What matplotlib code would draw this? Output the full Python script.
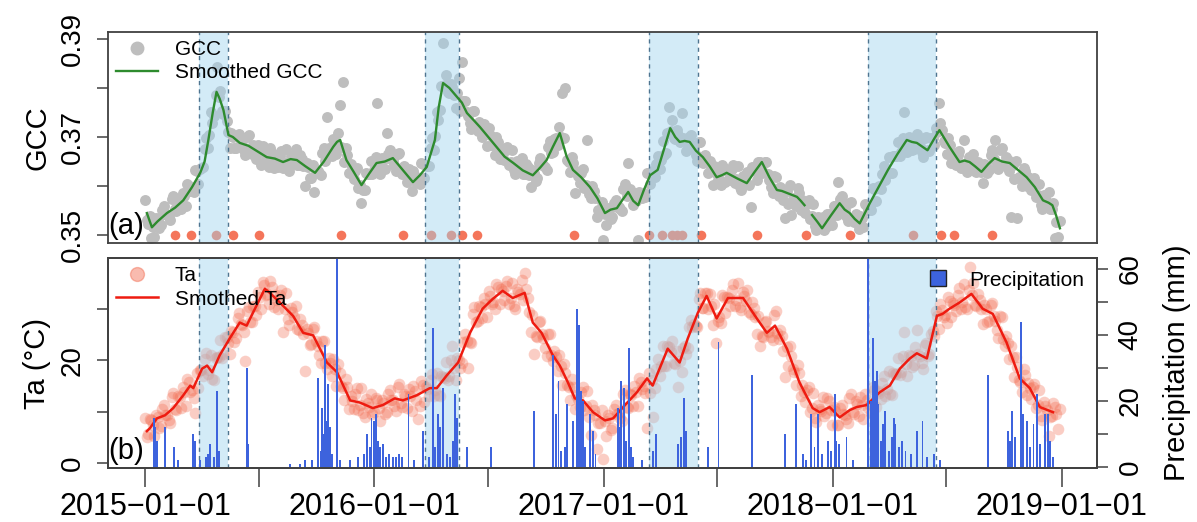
import numpy as np
import pandas as pd
import matplotlib
matplotlib.use('Agg')
import matplotlib.pyplot as plt
from matplotlib.lines import Line2D

plt.rcParams['font.family'] = ['Liberation Sans', 'DejaVu Sans']

start = pd.Timestamp('2015-01-01')

# observations: one list on days 0, 5, 10, ... and one on days 2.5, 7.5, ...
obs_step = 5
gcc_obs = [
    # 2015
    .3572, .3522, .3495, .3497, .3533, .3521, .3560, .3542, .3530, .3580,
    .3550, .3571, .3586, .3559, .3600, .3597, .3633, .3605, .3637, .3675,
    .3677, .3751, .3742, .3842, .3794, .3747, .3733, .3677, .3701, .3678,
    .3707, .3683, .3663, .3704, .3666, .3677, .3684, .3643, .3670, .3654,
    .3677, .3636, .3652, .3662, .3637, .3675, .3631, .3657, .3675, .3642,
    .3656, .3600, .3639, .3617, .3588, .3631, .3623, .3677, .3740, .3676,
    .3695, .3666, .3765, .3812, .3677, .3627, .3632, .3631, .3596, .3566,
    .3591, .3625, .3651,
    # 2016
    .3632, .3770, .3624, .3654, .3708, .3673, .3654, .3630, .3667, .3624,
    .3632, .3634, .3589, .3620, .3615, .3648, .3617, .3641, .3677, .3674,
    .3750, .3755, .3892, .3826, .3789, .3801, .3760, .3820, .3853, .3773,
    .3742, .3717, .3754, .3712, .3723, .3726, .3681, .3704, .3683, .3700,
    .3656, .3668, .3673, .3643, .3674, .3624, .3645, .3658, .3624, .3638,
    .3599, .3627, .3617, .3657, .3643, .3633, .3691, .3669, .3697, .3720,
    .3790, .3800, .3650, .3660, .3586, .3621, .3627, .3597, .3694, .3576,
    .3589, .3537, .3548,
    # 2017
    .3490, .3521, .3552, .3536, .3572, .3557, .3550, .3604, .3647, .3585,
    .3586, .3490, .3583, .3585, .3626, .3604, .3627, .3644, .3634, .3692,
    .3668, .3761, .3735, .3695, .3704, .3749, .3693, .3675, .3705, .3677,
    .3652, .3690, .3648, .3652, .3651, .3603, .3627, .3615, .3643, .3608,
    .3626, .3634, .3607, .3640, .3592, .3613, .3629, .3557, .3638, .3613,
    .3649, .3629, .3650, .3613, .3585, .3619, .3580, .3593, .3535, .3563,
    .3541, .3575, .3597, .3552, .3562, .3564, .3533, .3563, .3510, .3526,
    .3537, .3516, .3544,
    # 2018
    .3521, .3559, .3608, .3579, .3552, .3529, .3567, .3526, .3534, .3540,
    .3516, .3560, .3560, .3597, .3570, .3600, .3624, .3612, .3660, .3627,
    .3662, .3689, .3669, .3751, .3669, .3695, .3675, .3706, .3681, .3659,
    .3700, .3671, .3697, .3718, .3770, .3714, .3687, .3698, .3647, .3657,
    .3663, .3637, .3694, .3629, .3654, .3665, .3629, .3641, .3606, .3643,
    .3633, .3673, .3694, .3634, .3677, .3640, .3653, .3537, .3614, .3535,
    .3617, .3637, .3600, .3609, .3612, .3577, .3605, .3553, .3573, .3587,
    .3554, .3494, .3497,
]
gcc_obs_mid = [
    # 2015
    .3530, .3539, .3517, .3534, .3515, .3551, .3544, .3536, .3573, .3553,
    .3573, .3554, .3579, .3605, .3589, .3588, .3630, .3635, .3638, .3698,
    .3705, .3729, .3786, .3781, .3754, .3754, .3710, .3708, .3678, .3703,
    .3688, .3673, .3701, .3673, .3684, .3656, .3670, .3682, .3653, .3638,
    .3668, .3658, .3639, .3672, .3647, .3636, .3662, .3653, .3642, .3663,
    .3641, .3647, .3616, .3642, .3631, .3627, .3668, .3652, .3677, .3661,
    .3687, .3709, .3680, .3650, .3663, .3644, .3614, .3636, .3602, .3592,
    .3626, .3625, .3625,
    # 2016
    .3659, .3645, .3658, .3634, .3666, .3656, .3642, .3666, .3633, .3641,
    .3608, .3618, .3630, .3608, .3604, .3644, .3643, .3641, .3698, .3703,
    .3735, .3803, .3807, .3791, .3809, .3785, .3789, .3753, .3773, .3750,
    .3729, .3753, .3721, .3730, .3700, .3710, .3718, .3684, .3664, .3689,
    .3676, .3653, .3680, .3649, .3632, .3652, .3638, .3624, .3645, .3623,
    .3632, .3610, .3648, .3643, .3638, .3680, .3668, .3696, .3684, .3701,
    .3698, .3654, .3628, .3647, .3630, .3606, .3634, .3603, .3584, .3600,
    .3576, .3552, .3567,
    # 2017
    .3544, .3556, .3532, .3565, .3557, .3553, .3595, .3579, .3594, .3561,
    .3570, .3587, .3575, .3578, .3626, .3630, .3618, .3661, .3654, .3663,
    .3709, .3712, .3698, .3714, .3689, .3698, .3672, .3701, .3684, .3664,
    .3689, .3657, .3663, .3627, .3634, .3640, .3612, .3602, .3637, .3631,
    .3612, .3643, .3614, .3599, .3620, .3608, .3602, .3638, .3630, .3650,
    .3627, .3650, .3624, .3599, .3620, .3587, .3599, .3572, .3589, .3602,
    .3573, .3559, .3586, .3571, .3545, .3571, .3539, .3519, .3536, .3518,
    .3510, .3544, .3537,
    # 2018
    .3559, .3542, .3574, .3558, .3540, .3566, .3534, .3543, .3512, .3535,
    .3563, .3551, .3551, .3595, .3599, .3594, .3640, .3627, .3626, .3662,
    .3662, .3662, .3697, .3688, .3701, .3673, .3701, .3686, .3670, .3697,
    .3673, .3697, .3683, .3711, .3728, .3691, .3665, .3684, .3666, .3642,
    .3672, .3646, .3634, .3659, .3646, .3630, .3649, .3628, .3644, .3626,
    .3664, .3656, .3643, .3673, .3646, .3659, .3631, .3643, .3651, .3618,
    .3600, .3630, .3619, .3593, .3617, .3582, .3562, .3581, .3567, .3554,
    .3565, .3527, .3528,
]
ta_obs = [
    # 2015
    8.7, 5.6, 8.4, 5.2, 9.0, 7.2, 11.3, 9.3, 7.8, 13.7,
    10.3, 12.9, 14.8, 11.2, 15.7, 14.2, 9.8, 14.7, 18.2, 20.2,
    17.3, 21.0, 16.1, 20.6, 23.9, 21.3, 24.5, 21.3, 25.6, 24.4,
    29.3, 26.9, 19.8, 30.5, 27.6, 30.6, 33.3, 30.1, 34.7, 33.0,
    35.5, 30.4, 31.9, 32.8, 25.6, 33.1, 27.0, 29.4, 30.6, 25.9,
    27.0, 17.9, 25.4, 23.2, 26.5, 22.9, 19.6, 23.8, 18.4, 19.6,
    20.2, 15.1, 17.5, 14.7, 16.4, 10.6, 12.1, 13.5, 10.3, 14.6,
    8.9, 11.6, 13.5,
    # 2016
    9.9, 12.2, 8.2, 11.7, 10.0, 14.2, 12.2, 10.2, 15.4, 11.0,
    13.0, 14.4, 10.2, 14.0, 8.5, 16.0, 11.9, 14.4, 16.1, 13.1,
    17.6, 13.0, 16.8, 19.7, 16.9, 22.9, 16.2, 20.1, 19.5, 25.1,
    18.6, 23.5, 30.5, 27.7, 30.4, 32.2, 28.4, 32.6, 31.5, 35.0,
    31.0, 33.6, 34.6, 31.1, 35.2, 30.1, 33.4, 35.7, 37.0, 32.2,
    25.6, 21.2, 24.6, 27.8, 24.3, 20.8, 25.2, 19.8, 20.7, 21.0,
    15.2, 17.6, 14.8, 16.4, 10.5, 12.5, 13.8, 10.4, 14.1, 5.5,
    10.4, 2.8, 7.8,
    # 2017
    0.8, 5.3, 8.8, 6.9, 11.3, 9.7, 8.2, 14.3, 10.7, 13.2,
    15.1, 11.2, 15.8, 15.1, 6.9, 13.6, 9.0, 18.3, 16.9, 22.9,
    19.0, 22.6, 23.8, 19.4, 14.8, 17.7, 22.8, 22.5, 27.9, 27.1,
    26.6, 33.2, 30.2, 33.2, 32.9, 27.0, 23.5, 28.5, 32.7, 29.3,
    32.2, 33.7, 30.7, 35.2, 29.8, 32.6, 33.8, 29.1, 30.3, 25.2,
    22.9, 24.6, 27.7, 25.5, 24.0, 29.6, 24.2, 24.8, 16.8, 18.9,
    20.9, 17.8, 19.1, 13.1, 13.9, 14.2, 10.0, 13.6, 7.9, 10.5,
    12.9, 9.7, 12.1,
    # 2018
    7.4, 10.1, 7.4, 11.3, 9.4, 7.8, 13.4, 9.5, 11.5, 12.8,
    8.5, 12.2, 11.3, 14.9, 11.0, 13.7, 15.6, 13.0, 17.9, 13.3,
    17.4, 20.5, 17.8, 25.6, 16.9, 20.8, 19.2, 26.0, 20.8, 18.4,
    23.5, 21.3, 25.8, 29.7, 26.1, 29.9, 28.9, 32.3, 28.4, 30.9,
    32.7, 30.0, 34.9, 30.0, 38.2, 35.2, 30.6, 31.9, 27.1, 30.1,
    27.7, 31.3, 27.8, 24.4, 28.5, 22.9, 23.4, 22.9, 16.7, 18.7,
    15.8, 18.3, 13.2, 14.6, 14.9, 10.7, 14.2, 8.4, 11.1, 5.2,
    9.1, 11.0, 6.7,
]
ta_obs_mid = [
    # 2015
    5.0, 8.6, 7.4, 9.4, 6.8, 10.6, 9.4, 8.4, 12.8, 10.5,
    13.1, 10.8, 13.8, 16.4, 13.9, 12.6, 17.6, 18.1, 17.0, 21.4,
    18.1, 16.4, 20.4, 20.6, 20.5, 24.5, 23.5, 25.7, 23.6, 28.2,
    27.2, 25.5, 29.6, 27.5, 30.6, 28.9, 32.4, 35.4, 32.8, 31.0,
    34.3, 32.8, 30.1, 33.7, 30.1, 28.0, 30.3, 28.4, 26.2, 28.1,
    25.2, 26.1, 23.0, 26.2, 23.8, 21.1, 23.8, 19.6, 20.5, 16.9,
    18.4, 19.3, 15.1, 12.3, 14.9, 13.0, 10.6, 14.6, 11.4, 9.7,
    12.4, 10.9, 9.6,
    # 2016
    12.7, 10.8, 12.2, 9.5, 13.5, 12.3, 11.1, 14.9, 11.7, 13.5,
    10.7, 13.1, 15.1, 12.3, 11.1, 15.3, 14.8, 13.0, 17.3, 14.3,
    13.2, 17.0, 16.6, 16.2, 20.0, 18.6, 20.4, 18.5, 23.7, 23.8,
    23.7, 29.1, 27.6, 30.6, 28.3, 31.1, 33.5, 31.0, 30.0, 34.4,
    34.0, 31.9, 35.6, 32.1, 30.6, 33.9, 32.9, 31.9, 33.9, 29.5,
    28.8, 24.7, 27.6, 25.2, 22.4, 25.1, 21.0, 21.8, 17.9, 18.9,
    19.4, 15.2, 12.3, 14.8, 13.2, 10.9, 14.8, 11.2, 9.0, 11.3,
    9.4, 7.7, 10.4,
    # 2017
    8.1, 9.3, 6.5, 10.5, 9.6, 8.8, 13.4, 11.0, 13.5, 11.2,
    13.9, 16.5, 14.4, 13.7, 17.6, 16.1, 14.6, 20.3, 18.9, 18.9,
    22.9, 21.6, 19.5, 21.8, 19.9, 22.5, 21.3, 26.6, 26.6, 26.7,
    32.0, 30.2, 33.2, 30.1, 30.7, 31.1, 27.8, 27.3, 32.4, 32.4,
    30.7, 34.9, 31.9, 30.4, 33.3, 31.6, 29.4, 31.4, 28.4, 28.7,
    24.8, 27.5, 25.7, 24.6, 28.9, 25.4, 26.0, 21.8, 22.6, 22.9,
    18.3, 15.2, 17.5, 15.2, 11.8, 14.8, 10.8, 8.7, 11.3, 10.1,
    9.2, 12.6, 10.4,
    # 2018
    11.0, 7.4, 10.7, 9.5, 8.5, 12.7, 10.0, 12.0, 9.2, 11.4,
    13.4, 10.7, 9.8, 14.3, 14.0, 12.4, 17.0, 14.4, 13.5, 17.5,
    17.3, 17.1, 20.8, 19.3, 21.1, 18.7, 22.7, 21.3, 19.5, 23.1,
    20.9, 25.1, 24.8, 28.7, 31.0, 28.4, 27.3, 31.7, 31.3, 29.6,
    34.1, 31.4, 30.4, 33.8, 32.7, 30.8, 32.9, 30.1, 30.9, 27.6,
    30.9, 28.7, 26.0, 28.6, 24.2, 24.7, 20.2, 20.6, 20.7, 16.2,
    13.8, 17.1, 15.6, 12.5, 15.5, 11.4, 9.2, 11.9, 10.4, 8.9,
    11.7, 9.5, 10.6,
]

# smoothed series, day offsets from 2015-01-01 (nan = no data)
gcc_smooth_day = [
    3, 11, 20, 35, 48, 61, 75, 88, 95, 101,
    108, 114, 119, 125, 133, 140, 151, 165, 180, 194,
    207, 220, 232, 242, 256, 271, 285, 300, 306, 311,
    321, 333, 345, 357, 369, 382, 395, 410, 427, 438,
    449, 462, 468, 475, 485, 497, 505, 513, 524, 534,
    547, 560, 573, 587, 602, 618, 630, 640, 650, 661,
    672, 682, 695, 709, 721, 733, 742, 752, 761, 770,
    778, 786, 795, 805, 817, 827, 837, 845, 852, 860,
    868, 878, 889, 900, 911, 919, 927, 943, 959, 971,
    983, 995, 1007, 1015, 1023, 1031, 1039, 1045, 1051, 1057,
    1063, 1071, 1079, 1093, 1107, 1115, 1123, 1131, 1139, 1155,
    1170, 1184, 1199, 1214, 1222, 1230, 1239, 1247, 1257, 1266,
    1282, 1298, 1306, 1314, 1323, 1333, 1344, 1354, 1366, 1378,
    1392, 1405, 1418, 1431, 1440, 1446, 1452, 1458,
]
gcc_smooth = [
    .3545, .3516, .3528, .3545, .3556, .3571, .3598, .3627, .3650, .3694,
    .3750, .3792, .3778, .3755, .3704, .3700, .3688, .3682, .3670, .3659,
    .3656, .3649, .3655, .3653, .3640, .3627, .3650, .3680, .3690, .3694,
    .3653, .3628, .3602, .3625, .3647, .3650, .3657, .3634, .3608, .3622,
    .3639, .3694, .3760, .3810, .3800, .3782, .3770, .3749, .3734, .3720,
    .3700, .3680, .3660, .3647, .3632, .3622, .3638, .3653, .3680, .3708,
    .3660, .3633, .3618, .3598, .3575, .3545, .3552, .3555, .3572, .3588,
    .3570, .3561, .3592, .3622, .3633, .3675, .3718, .3700, .3690, .3692,
    .3690, .3672, .3659, .3640, .3618, .3622, .3627, .3616, .3606, .3628,
    .3649, .3618, .3592, .3590, .3586, .3582, .3578, .3570, .3561, np.nan,
    .3541, .3528, .3514, .3540, .3565, .3552, .3545, .3533, .3524, .3565,
    .3600, .3633, .3665, .3694, .3690, .3688, .3680, .3673, .3695, .3714,
    .3680, .3649, .3652, .3649, .3640, .3629, .3645, .3657, .3650, .3647,
    .3632, .3618, .3598, .3571, .3566, .3561, .3540, .3514,
]
ta_smooth_day = [
    3, 8, 19, 32, 45, 61, 72, 77, 91, 99,
    107, 119, 135, 151, 162, 172, 191, 199, 215, 236,
    252, 268, 290, 306, 327, 342, 363, 379, 398, 411,
    433, 454, 465, 481, 499, 518, 538, 554, 570, 586,
    605, 618, 632, 650, 661, 674, 685, 698, 714, 733,
    746, 765, 784, 800, 809, 820, 833, 852, 865, 881,
    895, 911, 929, 953, 975, 991, 1004, 1023, 1043, 1064,
    1075, 1091, 1107, 1123, 1134, 1150, 1171, 1187, 1203, 1219,
    1230, 1246, 1262, 1271, 1282, 1298, 1317, 1335, 1351, 1373,
    1394, 1410, 1426, 1447,
]
ta_smooth = [
    6.2, 6.8, 8.7, 9.3, 10.7, 13.2, 15.1, 14.6, 18.4, 19.0,
    17.7, 21.0, 24.3, 27.4, 26.8, 29.3, 34.0, 33.2, 31.3, 28.7,
    25.4, 24.9, 19.6, 17.7, 12.2, 11.8, 10.7, 11.3, 12.6, 12.2,
    13.2, 14.6, 14.6, 17.1, 19.6, 25.4, 30.1, 32.0, 33.6, 32.2,
    33.2, 27.4, 25.4, 21.0, 19.0, 15.7, 12.6, 12.2, 9.9, 8.3,
    8.7, 11.3, 13.8, 16.5, 15.1, 18.4, 22.3, 19.6, 24.3, 29.3,
    32.6, 28.2, 32.2, 32.2, 28.2, 25.4, 26.8, 22.3, 15.7, 10.7,
    9.9, 10.9, 8.9, 10.3, 10.9, 11.3, 13.8, 15.1, 18.4, 20.4,
    21.4, 20.4, 28.7, 29.1, 30.1, 31.3, 33.0, 30.1, 29.1, 23.5,
    16.5, 14.6, 10.9, 9.9,
]

# daily rainfall events
rain_day = [
    14, 16, 19, 32, 46, 53, 76, 80, 88, 97,
    100, 104, 110, 115, 118, 162, 164, 231, 247, 255,
    266, 276, 280, 282, 285, 287, 290, 292, 295, 298,
    306, 311, 327, 339, 349, 354, 358, 361, 365, 368,
    371, 374, 379, 384, 389, 395, 400, 405, 409, 420,
    429, 443, 452, 459, 462, 467, 470, 475, 481, 486,
    491, 494, 497, 513, 551, 620, 650, 655, 659, 663,
    669, 672, 682, 688, 691, 695, 698, 701, 709, 714,
    718, 754, 757, 759, 763, 766, 771, 774, 777, 792,
    809, 814, 849, 854, 859, 862, 897, 914, 968, 1020,
    1037, 1048, 1053, 1061, 1067, 1072, 1079, 1088, 1093, 1099,
    1102, 1106, 1118, 1128, 1152, 1153, 1157, 1160, 1163, 1166,
    1169, 1173, 1176, 1179, 1185, 1190, 1193, 1196, 1201, 1206,
    1212, 1220, 1230, 1239, 1246, 1257, 1267, 1343, 1375, 1378,
    1381, 1386, 1396, 1399, 1405, 1410, 1416, 1421, 1426, 1434,
    1439, 1442, 1447,
]
rain_mm = [
    15, 12, 8, 12, 6, 2, 10, 8, 2, 3,
    4, 7, 3, 23, 5, 30, 7, 1, 1, 2,
    2, 27, 5, 18, 10, 37, 14, 25, 12, 4,
    64, 2, 2, 3, 4, 10, 6, 15, 14, 16,
    8, 6, 7, 3, 4, 3, 3, 4, 3, 22,
    2, 11, 3, 42, 6, 16, 12, 24, 4, 3,
    8, 22, 15, 6, 6, 17, 34, 16, 26, 5,
    6, 19, 14, 48, 43, 23, 20, 6, 16, 11,
    4, 18, 12, 26, 24, 8, 36, 6, 3, 2,
    5, 10, 7, 9, 21, 11, 6, 38, 28, 10,
    19, 4, 2, 16, 6, 16, 4, 8, 5, 22,
    8, 7, 9, 2, 64, 28, 20, 39, 26, 29,
    19, 8, 13, 17, 5, 9, 15, 13, 6, 8,
    5, 4, 11, 14, 3, 4, 2, 28, 11, 8,
    17, 9, 44, 16, 14, 6, 13, 22, 7, 16,
    16, 8, 3,
]

# event days marked along the GCC baseline
event_day = [48, 73, 113, 140, 182, 312, 411, 456, 487, 505, 529, 683,
             803, 824, 840, 848, 855, 886, 975, 1053, 1123, 1224, 1268,
             1290, 1349]
event_level = 0.35

season_start = ['2015-03-28', '2016-03-23', '2017-03-14', '2018-02-26']
season_end = ['2015-05-14', '2016-05-16', '2017-06-01', '2018-06-14']


def to_dates(days):
    return start + pd.to_timedelta(np.asarray(days, dtype=float), unit='D')


obs_dates = to_dates(np.arange(len(gcc_obs)) * obs_step)
mid_dates = to_dates(np.arange(len(gcc_obs_mid)) * obs_step + obs_step / 2)
xlim = (pd.Timestamp('2014-11-03'), pd.Timestamp('2019-02-26'))
frame_col = '#404040'

fig = plt.figure(figsize=(11.97, 5.22), dpi=100)
ax_a = fig.add_axes([0.0902, 0.5345, 0.8262, 0.4042])
ax_b = fig.add_axes([0.0902, 0.1034, 0.8262, 0.4023])


def shade_seasons(ax):
    for s, e in zip(season_start, season_end):
        s, e = pd.Timestamp(s), pd.Timestamp(e)
        ax.axvspan(s, e, color='#9fd3ee', alpha=0.45, lw=0, zorder=2)
        for t in (s, e):
            ax.axvline(t, color='#4f7590', lw=1.0, ls=(0, (3, 3)), zorder=2.5)


def style_frame(ax):
    for sp in ax.spines.values():
        sp.set_color(frame_col)
        sp.set_linewidth(1.3)


def vertical_ticklabels(ax):
    for lab in ax.get_yticklabels():
        lab.set_rotation(90)
        lab.set_va('center')


# (a) GCC
for d, v in ((obs_dates, gcc_obs), (mid_dates, gcc_obs_mid)):
    ax_a.scatter(d, v, s=62, color='#bebebe', lw=0, zorder=1)
ax_a.scatter(to_dates(event_day), [event_level] * len(event_day), s=48,
             color='#f4755a', lw=0, zorder=1.5)
shade_seasons(ax_a)
ax_a.plot(to_dates(gcc_smooth_day), gcc_smooth, color='#2e8b2e', lw=1.7,
          zorder=3)
ax_a.set_xlim(*xlim)
ax_a.set_ylim(0.3484, 0.3914)
ax_a.set_yticks([0.35, 0.36, 0.37, 0.38, 0.39])
ax_a.set_yticklabels(['0.35', '', '0.37', '', '0.39'])
ax_a.tick_params(axis='x', bottom=False, labelbottom=False)
ax_a.tick_params(axis='y', length=8, width=1.1, color=frame_col, pad=8,
                 labelsize=20)
vertical_ticklabels(ax_a)
ax_a.set_ylabel('GCC', fontsize=21, labelpad=6)
style_frame(ax_a)
ax_a.text(0.0, 0.015, '(a)', transform=ax_a.transAxes, fontsize=21,
          ha='left', va='bottom')
ax_a.legend(handles=[Line2D([0], [0], marker='o', ls='none', ms=9,
                            color='#bebebe'),
                     Line2D([0], [0], color='#2e8b2e', lw=1.7)],
            labels=['GCC', 'Smoothed GCC'], loc='upper left',
            frameon=False, fontsize=15, handlelength=2.0,
            handletextpad=0.8, labelspacing=0.2, borderaxespad=0.1,
            borderpad=0.3)

# (b) air temperature and rainfall
for d, v in ((obs_dates, ta_obs), (mid_dates, ta_obs_mid)):
    ax_b.scatter(d, v, s=70, color='#f26a4e', alpha=0.33, lw=0, zorder=1)
shade_seasons(ax_b)
ax_b.plot(to_dates(ta_smooth_day), ta_smooth, color='#ee1b10', lw=1.8,
          zorder=3)
ax_b.set_xlim(*xlim)
ax_b.set_ylim(-1.0, 40.0)
ax_b.set_yticks([0, 10, 20, 30])
ax_b.set_yticklabels(['0', '', '20', ''])
ax_b.set_ylabel('Ta (°C)', fontsize=21, labelpad=6)

ticks = pd.date_range('2015-01-01', '2019-01-01', freq='6MS')
ax_b.set_xticks(ticks)
ax_b.set_xticklabels([t.strftime('%Y-%m-%d').replace('-', '\u2212')
                      if t.month == 1 else '' for t in ticks])
ax_b.tick_params(axis='x', length=14, width=1.1, color=frame_col, pad=3,
                 labelsize=22)
ax_b.tick_params(axis='y', length=8, width=1.1, color=frame_col, pad=8,
                 labelsize=20)
vertical_ticklabels(ax_b)
ax_b.text(0.0, 0.015, '(b)', transform=ax_b.transAxes, fontsize=21,
          ha='left', va='bottom')
ax_b.legend(handles=[Line2D([0], [0], marker='o', ls='none', ms=10,
                            color='#f26a4e', alpha=0.45),
                     Line2D([0], [0], color='#ee1b10', lw=1.8)],
            labels=['Ta', 'Smothed Ta'], loc='upper left',
            frameon=False, fontsize=15, handlelength=2.0,
            handletextpad=0.8, labelspacing=0.2, borderaxespad=0.1,
            borderpad=0.3)

ax_p = ax_b.twinx()
ax_p.bar(to_dates(rain_day), rain_mm, width=3.0, color='#3d63dd', lw=0)
ax_p.set_ylim(-0.3, 63.3)
ax_p.set_yticks([0, 10, 20, 30, 40, 50, 60])
ax_p.set_yticklabels(['0', '', '20', '', '40', '', '60'])
ax_p.tick_params(axis='y', length=8, width=1.1, color=frame_col, pad=7,
                 labelsize=20)
vertical_ticklabels(ax_p)
ax_p.set_ylabel('Precipitation (mm)', fontsize=21, labelpad=14)
ax_p.set_xlim(*xlim)
style_frame(ax_b)
style_frame(ax_p)
ax_p.legend(handles=[Line2D([0], [0], marker='s', ls='none', ms=11,
                            mfc='#3d63dd', mec='#222222', mew=1.0)],
            labels=['Precipitation'], loc='upper right', frameon=False,
            fontsize=15, handlelength=1.2, handletextpad=0.9,
            borderaxespad=0.2, borderpad=0.4)

fig.savefig('out.png', dpi=100)
